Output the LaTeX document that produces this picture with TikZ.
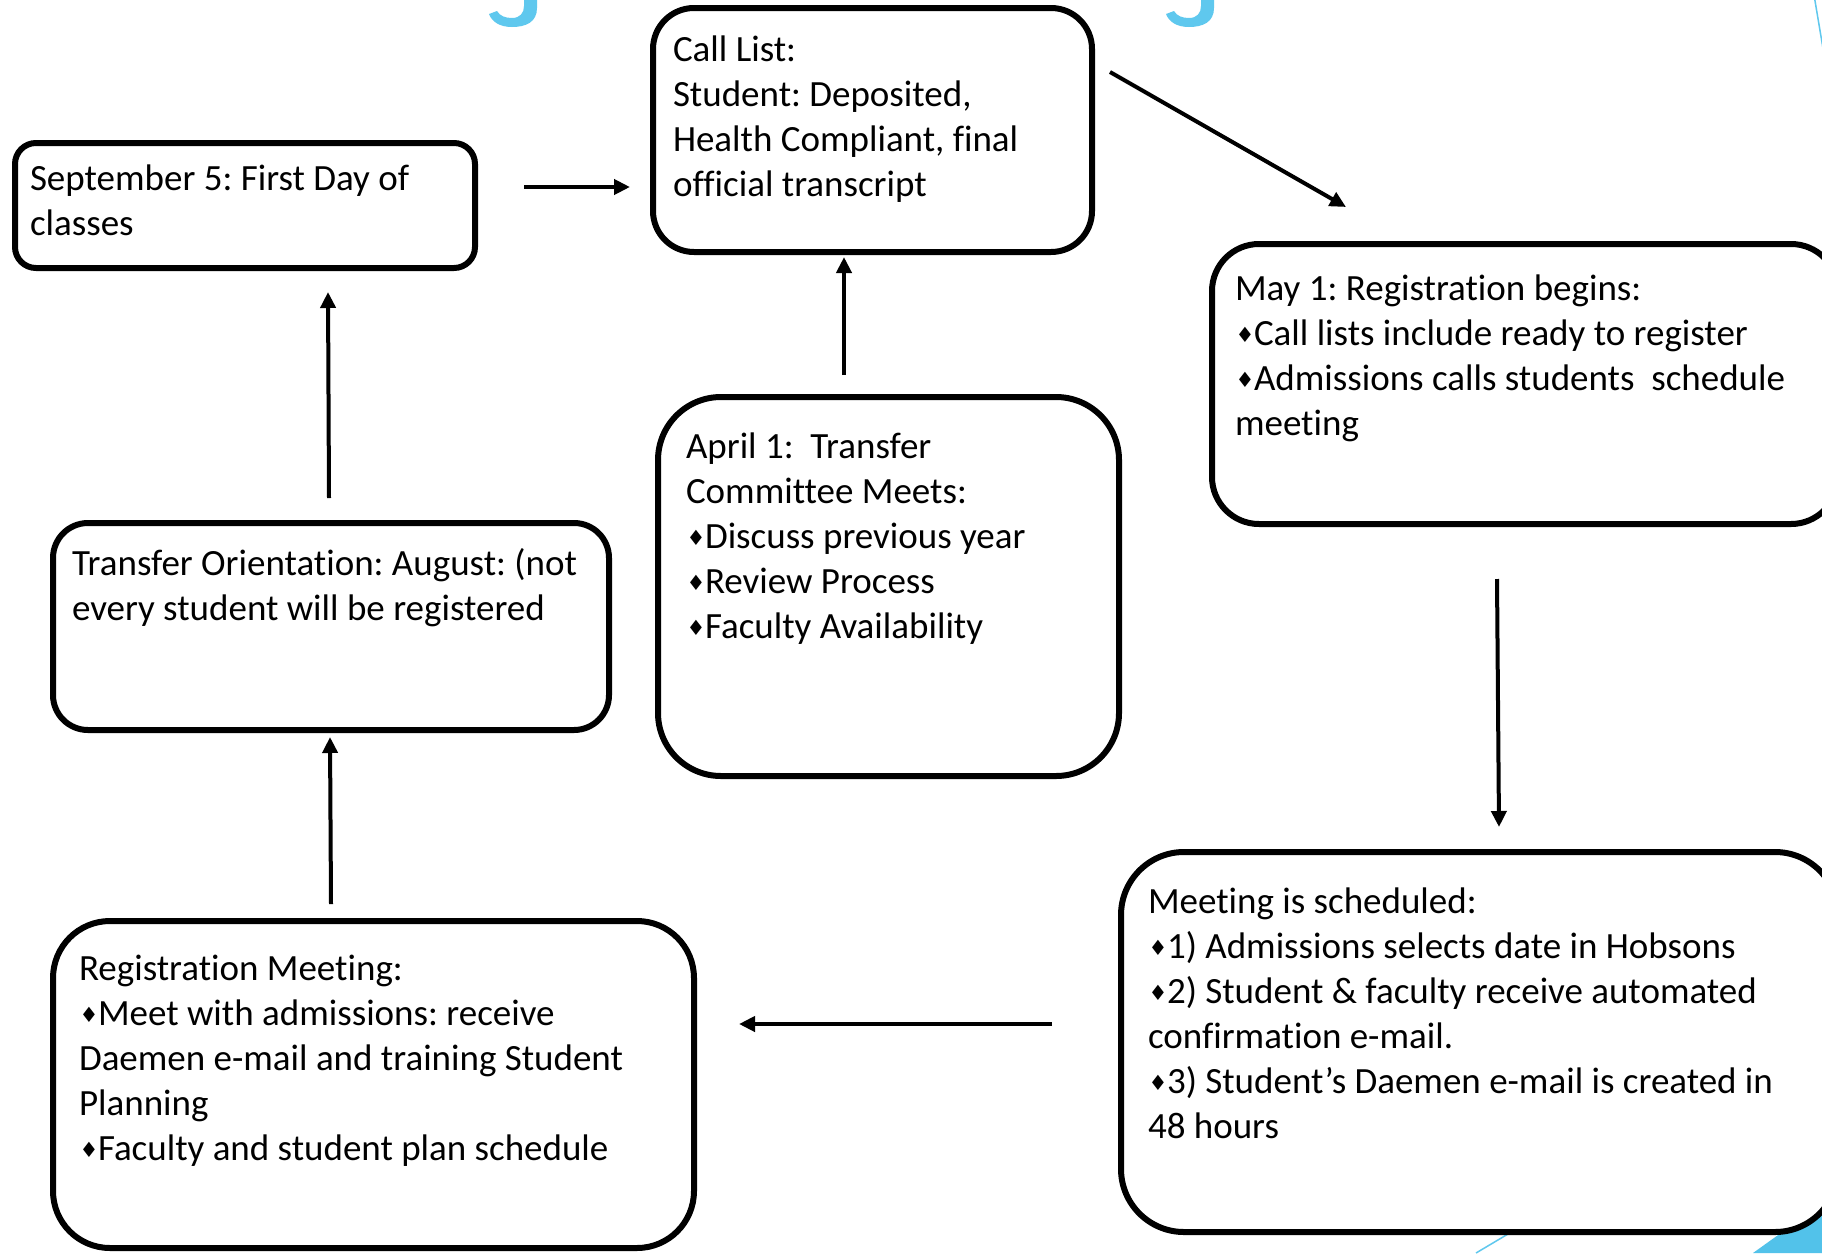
\documentclass[tikz,border=0pt]{standalone}
\usepackage{fontspec}
\setmainfont[Ligatures={NoCommon}]{Carlito}
\newfontfamily\symfont{DejaVu Sans}
\usepackage{tikz}
\usetikzlibrary{positioning}
\usetikzlibrary{arrows.meta}
\definecolor{titleblue}{RGB}{95,200,238}
\definecolor{cornerblue}{RGB}{82,194,234}
\frenchspacing
\newcommand{\bul}{\makebox[19pt][l]{\kern0.5pt\raisebox{3pt}{\symfont\fontsize{21}{21}\selectfont ♦}}}
\tikzstyle{box}=[draw,line width=6pt,fill=white,inner sep=0pt,outer sep=0pt]
\tikzstyle{boxtext}=[inner sep=0pt,outer sep=0pt,align=left,font=\fontsize{37}{45}\selectfont]
\tikzstyle{flow} = [draw,line width=4pt,-{Triangle[length=16pt,width=15pt]}]
\tikzstyle{slide} = [titleblue,line width=1.5pt]

\begin{document}
\begin{tikzpicture}[x=1pt,y=-1pt]
    \useasboundingbox (0,0) rectangle (1822,1253);
    \fill[white] (0,0) rectangle (1822,1253);

    % bits of the slide behind the chart
    \fill[cornerblue] (1753,1253) -- (1845,1187) -- (1845,1253) -- cycle;
    \draw[slide] (1476,1253) -- (1700,1120);
    \draw[slide] (1814,-5) -- (1830,90);
    \foreach \dx in {0,677}
        \fill[titleblue] (537+\dx,-1) -- (537+\dx,8) .. controls (537+\dx,22) and (526+\dx,27) .. (512+\dx,27) .. controls (500+\dx,27) and (492+\dx,22) .. (489+\dx,14) -- (497+\dx,11) .. controls (500+\dx,16) and (505+\dx,18) .. (512+\dx,18) .. controls (520+\dx,18) and (524+\dx,13) .. (524+\dx,6) -- (524+\dx,-1) -- cycle;

    % the boxes
    \node[box,rounded corners=21pt,minimum width=460pt,minimum height=125pt] (sept) at (245,205.5) {};
    \node[box,rounded corners=41pt,minimum width=439pt,minimum height=244pt] (calllist) at (872.5,130) {};
    \node[box,rounded corners=47pt,minimum width=626pt,minimum height=280pt] (maydate) at (1525,384) {};
    \node[box,rounded corners=63pt,minimum width=461pt,minimum height=379pt] (april) at (888.5,586.5) {};
    \node[box,rounded corners=35pt,minimum width=556pt,minimum height=207pt] (orient) at (331,626.5) {};
    \node[box,rounded corners=63pt,minimum width=717pt,minimum height=380pt] (meetsched) at (1479.5,1042) {};
    \node[box,rounded corners=57pt,minimum width=641pt,minimum height=327pt] (regmeet) at (373.5,1084.5) {};

    % texts
    \node[boxtext,below right=16pt and 15pt of sept.north west] (septtext)
        {\strut September 5: First Day of\\classes};
    \node[boxtext,below right=22pt and 20pt of calllist.north west] (calltext)
        {\strut Call List:\\Student: Deposited,\\Health Compliant, final\\official transcript};
    \node[boxtext,below right=24.5pt and 23pt of maydate.north west] (maytext)
        {\strut May 1: Registration begins:\\\bul Call lists include ready to register\\\bul Admissions calls students\ \ schedule\\meeting};
    \node[boxtext,below right=29.5pt and 28pt of april.north west] (apriltext)
        {\strut April 1:\ \ Transfer\\Committee Meets:\\\bul Discuss previous year\\\bul Review Process\\\bul Faculty Availability};
    \node[boxtext,below right=20.5pt and 19pt of orient.north west] (orienttext)
        {\strut Transfer Orientation: August: (not\\every student will be registered};
    \node[boxtext,below right=29.5pt and 27pt of meetsched.north west] (meettext)
        {\strut Meeting is scheduled:\\\bul 1) Admissions selects date in Hobsons\\\bul 2) Student \& faculty receive automated\\confirmation e-mail.\\\bul 3) Student’s Daemen e-mail is created in\\48 hours};
    \node[boxtext,below right=27.5pt and 26pt of regmeet.north west] (regtext)
        {\strut Registration Meeting:\\\bul Meet with admissions: receive\\Daemen e-mail and training Student\\Planning\\\bul Faculty and student plan schedule};

    % arrows between the steps
    \draw[flow] ([xshift=49pt,yshift=18.5pt]sept.east) -- ([xshift=-23pt,yshift=-57pt]calllist.west);
    \draw[flow] ([xshift=18pt,yshift=58pt]calllist.east) -- ([xshift=134pt,yshift=37pt]maydate.north west);
    \draw[flow] ([xshift=-44.5pt,yshift=22pt]april.north) -- ([xshift=-28.5pt,yshift=-5pt]calllist.south);
    \draw[flow] ([xshift=-28pt,yshift=-55pt]maydate.south) -- ([xshift=19.5pt,yshift=25pt]meetsched.north);
    \draw[flow] ([xshift=-69pt,yshift=18pt]meetsched.west) -- ([xshift=45pt,yshift=60.5pt]regmeet.east);
    \draw[flow] ([xshift=-42.5pt,yshift=17pt]regmeet.north) -- ([xshift=-1pt,yshift=-7pt]orient.south);
    \draw[flow] ([xshift=-2pt,yshift=25pt]orient.north) -- ([xshift=83pt,yshift=-24pt]sept.south);
\end{tikzpicture}
\end{document}
